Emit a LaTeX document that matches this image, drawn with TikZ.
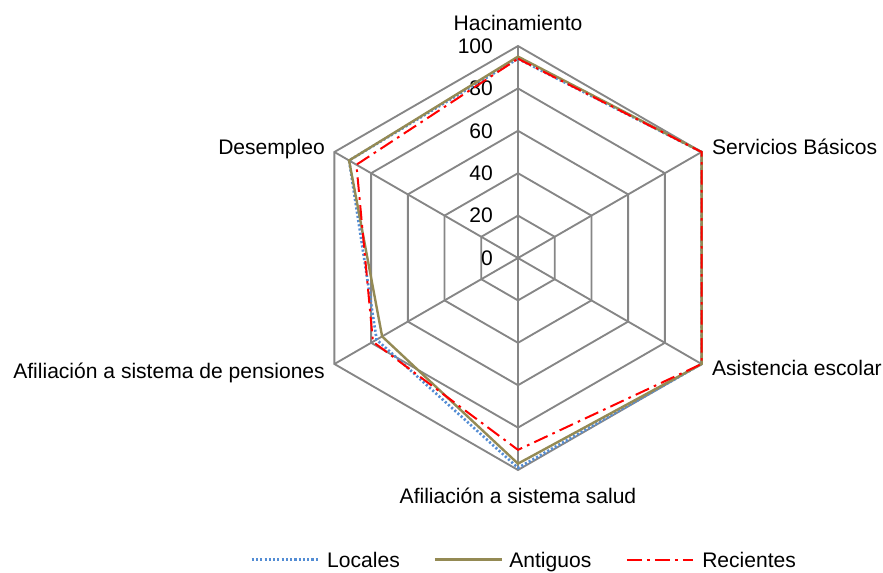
\documentclass[tikz,border=0pt]{standalone}
\usepackage{fontspec}
\setmainfont{Liberation Sans}
\definecolor{locblue}{RGB}{84,141,212}
\definecolor{antolive}{RGB}{148,138,84}
\definecolor{gridgray}{RGB}{134,134,134}
\begin{document}
\begin{tikzpicture}[x=1.59pt,y=1.59pt,font=\fontsize{15.8}{19}\selectfont,
  grid/.style={draw=gridgray,line width=1.4pt},
  locales/.style={draw=locblue,line width=2pt,dash pattern=on 1.6pt off 1.6pt},
  antiguos/.style={draw=antolive,line width=1.8pt},
  recientes/.style={draw=red,line width=1.5pt,dash pattern=on 11pt off 4pt on 2pt off 4pt},
  lbl/.style={inner sep=0pt}]
\useasboundingbox (-244.34,-148.58) rectangle (172.17,121.70);
\coordinate (o) at (0,0);
\coordinate (a1) at (90:100);
\coordinate (a2) at (30:100);
\coordinate (a3) at (-30:100);
\coordinate (a4) at (-90:100);
\coordinate (a5) at (210:100);
\coordinate (a6) at (150:100);
% rings
\draw[grid] (90:20)--(30:20)--(-30:20)--(-90:20)--(210:20)--(150:20)--cycle;
\draw[grid] (90:40)--(30:40)--(-30:40)--(-90:40)--(210:40)--(150:40)--cycle;
\draw[grid] (90:60)--(30:60)--(-30:60)--(-90:60)--(210:60)--(150:60)--cycle;
\draw[grid] (90:80)--(30:80)--(-30:80)--(-90:80)--(210:80)--(150:80)--cycle;
\draw[grid] (a1)--(a2)--(a3)--(a4)--(a5)--(a6)--cycle;
% spokes
\draw[grid] (o)--(a1);
\draw[grid] (o)--(a2);
\draw[grid] (o)--(a3);
\draw[grid] (o)--(a4);
\draw[grid] (o)--(a5);
\draw[grid] (o)--(a6);
% scale
\node [lbl,anchor=east,name=t0] at (-11.7,0){0};
\node [lbl,anchor=east,name=t20] at (-11.7,20){20};
\node [lbl,anchor=east,name=t40] at (-11.7,40){40};
\node [lbl,anchor=east,name=t60] at (-11.7,60){60};
\node [lbl,anchor=east,name=t80] at (-11.7,80){80};
\node [lbl,anchor=east,name=t100] at (-11.7,100){100};
% series
\draw[locales] (90:94)--(30:100)--(-30:100)--(-90:99)--(210:77)--(150:92)--cycle;
\draw[antiguos] (90:95)--(30:100)--(-30:100)--(-90:97)--(210:74)--(150:92)--cycle;
\draw[recientes] (90:94)--(30:100)--(-30:100)--(-90:90.5)--(210:79)--(150:88)--cycle;
% axis labels
\node [lbl,anchor=base,name=hac] at (0,107.5){Hacinamiento};
\node [lbl,anchor=base west,name=serv] at (91.4,48.6){Servicios Básicos};
\node [lbl,anchor=base west,name=asis] at (91.4,-55.2){Asistencia escolar};
\node [lbl,anchor=base,name=salud] at (0,-115.7){Afiliación a sistema salud};
\node [lbl,anchor=base east,name=pens] at (-91,-56.7){Afiliación a sistema de pensiones};
\node [lbl,anchor=base east,name=desem] at (-91,48.6){Desempleo};
% legend
\node [lbl,anchor=base west,name=legloc] at (-90.1,-146.1){Locales};
\node [lbl,anchor=base west,name=legant] at (-4.2,-146.1){Antiguos};
\node [lbl,anchor=base west,name=legrec] at (86.8,-146.1){Recientes};
\coordinate (locstart) at (-125.6,-142.3);
\coordinate (locend) at (-94.3,-142.3);
\coordinate (antstart) at (-39.2,-142.3);
\coordinate (antend) at (-7.7,-142.3);
\coordinate (recstart) at (51.4,-142.3);
\coordinate (recend) at (82.5,-142.3);
\draw[locales] (locstart)--(locend);
\draw[antiguos] (antstart)--(antend);
\draw[recientes] (recstart)--(recend);
\end{tikzpicture}
\end{document}
